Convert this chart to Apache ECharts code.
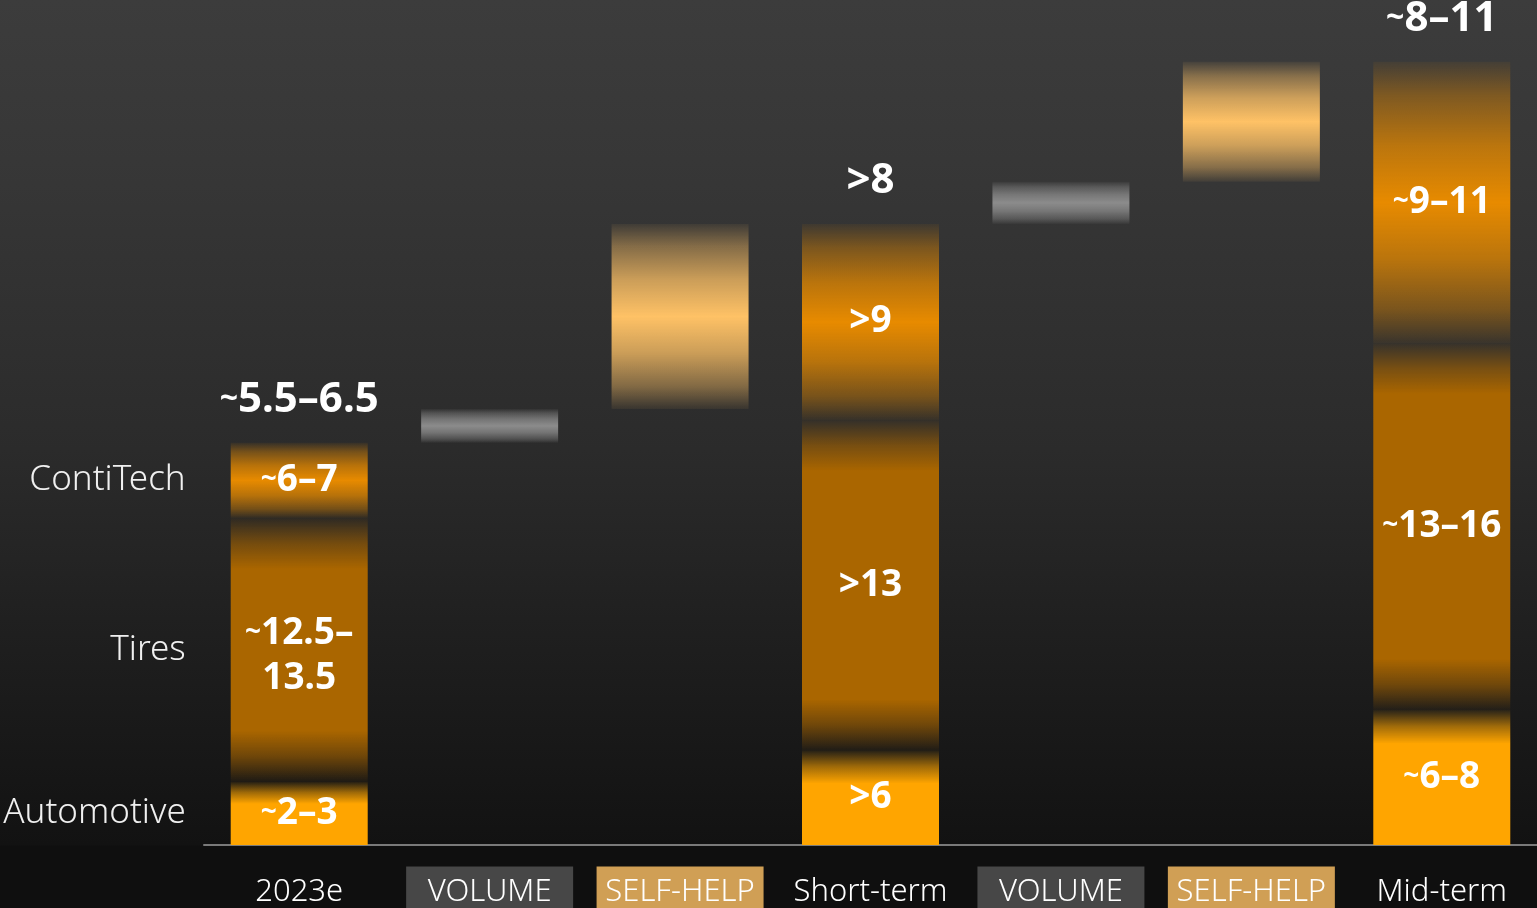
<!DOCTYPE html>
<html>
<head>
<meta charset="utf-8">
<script src="https://cdn.jsdelivr.net/npm/echarts@6/dist/echarts.min.js"></script>
<style>
  html, body {
    margin: 0;
    padding: 0;
    width: 1537px;
    height: 908px;
    overflow: hidden;
    background: linear-gradient(to bottom, #3c3c3c 0px, #373737 160px, #2b2b2b 450px, #1e1e1e 650px, #121212 845px, #0f0f0f 846px, #0f0f0f 908px);
  }
  #main { width: 1537px; height: 908px; }
</style>
</head>
<body>
<div id="main"></div>
<script>
// columns of the bridge
const categories = ['2023e', 'VOLUME', 'SELF-HELP', 'Short-term', 'VOLUME', 'SELF-HELP', 'Mid-term'];
const tagTypes = ['plain', 'vol', 'sh', 'plain', 'vol', 'sh', 'plain'];

// stacked segments (illustrative heights, bottom to top)
const automotive = [7.5, '-', '-', 11.2, '-', '-', 16.0];
const tires      = [31.2, '-', '-', 39.1, '-', '-', 43.4];
const contitech  = [8.9, '-', '-', 23.2, '-', '-', 33.3];
// bridge steps
const volume   = ['-', 4.0, '-', '-', 5.0, '-', '-'];
const selfHelp = ['-', '-', 21.9, '-', '-', 14.2, '-'];

// texts
const automotiveLabels = ['~2–3', '', '', '>6', '', '', '~6–8'];
const tiresLabels      = ['~12.5–\n13.5', '', '', '>13', '', '', '~13–16'];
const contitechLabels  = ['~6–7', '', '', '>9', '', '', '~9–11'];
const totalLabels      = ['~5.5–6.5', '', '', '>8', '', '', '~8–11'];
const segmentNames     = ['Automotive', 'Tires', 'ContiTech'];

const FONT = '"Noto Sans", "Open Sans", sans-serif';

const num = v => (v === '-' ? 0 : v);
const totals = categories.map((c, i) => num(automotive[i]) + num(tires[i]) + num(contitech[i]));

// invisible base for the floating steps
const base = [];
let running = 0;
categories.forEach((c, i) => {
    if (tagTypes[i] === 'plain') {
        base.push(0);
        running = totals[i];
    } else {
        base.push(running);
        running += num(volume[i]) + num(selfHelp[i]);
    }
});

// smaller tilde like the slide font
const tilde = s => s.replace(/~/g, '{t|~}');

const rgba = (c, a) => 'rgba(' + c[0] + ',' + c[1] + ',' + c[2] + ',' + a + ')';

// soft edges
const plateau = (c, v) => {
    const f = Math.min(0.4, 6 / v);
    return new echarts.graphic.LinearGradient(0, 0, 0, 1, [
        { offset: 0, color: rgba(c, 0.06) },
        { offset: f * 0.5, color: rgba(c, 0.6) },
        { offset: f, color: rgba(c, 1) },
        { offset: 1 - f, color: rgba(c, 1) },
        { offset: 1 - f * 0.5, color: rgba(c, 0.6) },
        { offset: 1, color: rgba(c, 0.06) }
    ]);
};

const topFade = (c, v) => {
    const f = Math.min(0.35, 4 / v);
    return new echarts.graphic.LinearGradient(0, 0, 0, 1, [
        { offset: 0, color: rgba(c, 0.06) },
        { offset: f * 0.5, color: rgba(c, 0.6) },
        { offset: f, color: rgba(c, 1) },
        { offset: 1, color: rgba(c, 1) }
    ]);
};

const peak = (c) => new echarts.graphic.LinearGradient(0, 0, 0, 1, [
    { offset: 0, color: rgba(c, 0.06) },
    { offset: 0.12, color: rgba(c, 0.4) },
    { offset: 0.3, color: rgba(c, 0.75) },
    { offset: 0.5, color: rgba(c, 1) },
    { offset: 0.7, color: rgba(c, 0.75) },
    { offset: 0.88, color: rgba(c, 0.4) },
    { offset: 1, color: rgba(c, 0.06) }
]);

const segItems = (arr, paint, labels, offsets) => arr.map((v, i) => {
    if (v === '-') return '-';
    return {
        value: v,
        itemStyle: { color: paint(v) },
        label: { formatter: tilde(labels[i]), offset: (offsets && offsets[i]) || [0, 0] }
    };
});

const segLabel = {
    show: true,
    position: 'inside',
    color: '#ffffff',
    fontFamily: FONT,
    fontWeight: 'bold',
    fontSize: 37,
    lineHeight: 45,
    rich: {
        t: { color: '#ffffff', fontFamily: FONT, fontWeight: 'bold', fontSize: 28, verticalAlign: 'middle' }
    }
};

const tagStyle = {
    color: '#ffffff',
    fontFamily: FONT,
    fontWeight: 300,
    fontSize: 31,
    lineHeight: 32,
    width: 167,
    align: 'center',
    padding: [10, 0, 14, 0]
};

const chart = echarts.init(document.getElementById('main'));
chart.setOption({
    animation: false,
    backgroundColor: 'transparent',
    grid: { left: 204, right: 0, top: 0, bottom: 63, outerBoundsMode: 'none', containLabel: false },
    xAxis: {
        type: 'category',
        data: categories,
        axisTick: { show: false },
        axisLine: { lineStyle: { color: '#7a7a7a', width: 2 } },
        axisLabel: {
            interval: 0,
            margin: 33,
            formatter: (v, i) => '{' + tagTypes[i] + '|' + v + '}',
            rich: {
                plain: tagStyle,
                vol: Object.assign({}, tagStyle, { backgroundColor: '#474747' }),
                sh: Object.assign({}, tagStyle, { backgroundColor: '#d09f55' })
            }
        }
    },
    yAxis: { type: 'value', min: 0, max: 100, show: false },
    series: [
        {
            type: 'bar', stack: 'a', barWidth: 137, data: base,
            itemStyle: { color: 'transparent' }, silent: true
        },
        {
            type: 'bar', stack: 'a', barWidth: 137,
            data: segItems(automotive, v => topFade([255, 165, 0], v), automotiveLabels),
            label: segLabel
        },
        {
            type: 'bar', stack: 'a', barWidth: 137,
            data: segItems(tires, v => plateau([170, 102, 0], v), tiresLabels, [[0, 6]]),
            label: segLabel
        },
        {
            type: 'bar', stack: 'a', barWidth: 137,
            data: segItems(contitech, () => peak([232, 139, 0]), contitechLabels),
            label: segLabel
        },
        {
            type: 'bar', stack: 'a', barWidth: 137,
            data: volume, itemStyle: { color: peak([140, 140, 140]) }
        },
        {
            type: 'bar', stack: 'a', barWidth: 137,
            data: selfHelp, itemStyle: { color: peak([255, 194, 102]) }
        },
        {
            // totals above the stacks
            type: 'scatter', symbolSize: 1, itemStyle: { color: 'transparent', opacity: 1 },
            data: totals.map((t, i) => (totalLabels[i] ? [i, t] : null)).filter(d => d),
            label: {
                show: true, position: 'top', distance: 21,
                formatter: p => tilde(totalLabels[p.data[0]]),
                color: '#ffffff', fontFamily: FONT, fontWeight: 'bold', fontSize: 42,
                rich: {
                    t: { color: '#ffffff', fontFamily: FONT, fontWeight: 'bold', fontSize: 32, verticalAlign: 'middle' }
                }
            },
            z: 5
        },
        {
            // segment names left of the first column
            type: 'scatter', symbolSize: 1, itemStyle: { color: 'transparent', opacity: 1 },
            data: [
                [0, automotive[0] / 2, 0],
                [0, automotive[0] + tires[0] / 2, 1],
                [0, automotive[0] + tires[0] + contitech[0] / 2, 2]
            ],
            label: {
                show: true, position: 'left', distance: 113,
                formatter: p => segmentNames[p.data[2]],
                color: '#f0f0f0', fontFamily: FONT, fontWeight: 300, fontSize: 35
            },
            z: 5
        }
    ]
});
</script>
</body>
</html>
